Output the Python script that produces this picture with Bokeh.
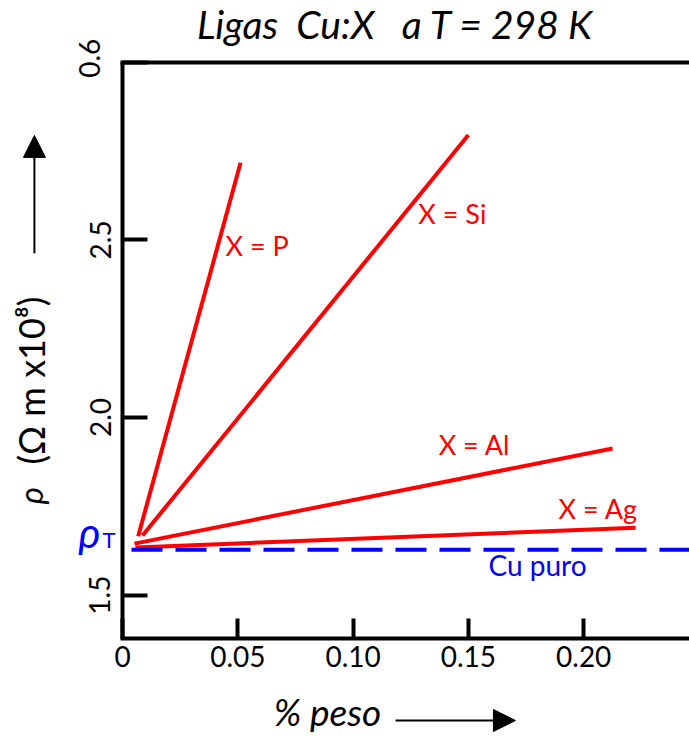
import math
from bokeh.plotting import figure
from bokeh.models import Range1d, FixedTicker, Label, Arrow, NormalHead, LinearAxis
from bokeh.embed import file_html
from bokeh.resources import INLINE

# ---- data ----
p_x = [0.0068, 0.0512]
p_y = [1.666, 2.717]
si_x = [0.0087, 0.150]
si_y = [1.668, 2.795]
al_x = [0.0052, 0.2125]
al_y = [1.645, 1.913]
ag_x = [0.0056, 0.2225]
ag_y = [1.634, 1.690]
cu_x = [0.0039, 0.2459]
cu_y = [1.628, 1.628]

x_ticks = [0, 0.05, 0.1, 0.15, 0.2]
x_tick_labels = ["0", "0.05", "0.10", "0.15", "0.20"]
y_ticks = [1.5, 2.0, 2.5, 3.0]
y_tick_labels = ["1.5", "2.0", "2.5", ""]
top_tick_label = "0.6"          # the top tick's label as printed in the source

X_MIN, X_MAX = 0.0, 0.2459      # plotted box
Y_MIN, Y_MAX = 1.379, 3.0

FONT = "Lato"
RED = "#ff0000"
BLUE = "#0000ff"

# the canvas shows the box plus room around it for the labels
p = figure(width=689, height=740, output_backend="svg", toolbar_location=None,
           x_range=Range1d(-0.05291, 0.24588), y_range=Range1d(1.0909, 3.1737),
           x_axis_location=None, y_axis_location=None,
           min_border_left=0, min_border_right=0, min_border_top=0,
           min_border_bottom=0)
p.title.visible = False
p.grid.visible = False
p.outline_line_color = None
p.background_fill_color = "white"
p.border_fill_color = "white"

def style_axis(ax, tick_in):
    ax.axis_line_width = 4
    ax.axis_line_color = "black"
    ax.major_tick_line_width = 4
    ax.major_tick_out = 0
    ax.major_tick_in = tick_in
    ax.minor_tick_line_color = None
    ax.major_label_text_font = FONT
    ax.major_label_text_font_size = "28px"
    ax.major_label_text_color = "black"

xaxis = LinearAxis(fixed_location=Y_MIN, bounds=(X_MIN - 0.0009, X_MAX),
                   ticker=FixedTicker(ticks=x_ticks),
                   major_label_overrides=dict(zip(x_ticks, x_tick_labels)))
style_axis(xaxis, 20)
xaxis.major_label_standoff = 8
p.add_layout(xaxis, "below")

yaxis = LinearAxis(fixed_location=X_MIN, bounds=(Y_MIN, Y_MAX),
                   ticker=FixedTicker(ticks=y_ticks),
                   major_label_overrides=dict(zip(y_ticks, y_tick_labels)))
style_axis(yaxis, 25)
yaxis.major_label_standoff = 12
yaxis.major_label_orientation = "vertical"
p.add_layout(yaxis, "left")

topaxis = LinearAxis(fixed_location=Y_MAX, bounds=(X_MIN - 0.0009, X_MAX),
                     ticker=FixedTicker(ticks=[]))
style_axis(topaxis, 0)
p.add_layout(topaxis, "above")

# series
for xs, ys in ((p_x, p_y), (si_x, si_y), (al_x, al_y), (ag_x, ag_y)):
    p.line(xs, ys, line_color=RED, line_width=4)
p.line(cu_x, cu_y, line_color=BLUE, line_width=4, line_dash="31 13")

def lab(x, y, text, size, color="black", style="normal", align="left",
        baseline="alphabetic", angle=0):
    p.add_layout(Label(x=x, y=y, text=text, text_font=FONT,
                       text_font_size=size, text_color=color,
                       text_font_style=style, text_align=align,
                       text_baseline=baseline, angle=angle))

# top tick label
lab(-0.0143, 3.0113, top_tick_label, "28px", align="center",
    baseline="middle", angle=math.pi / 2)

# series labels
lab(0.0447, 2.4853, "X = P", "27px", RED)
lab(0.1283, 2.5755, "X = Si", "27px", RED)
lab(0.1371, 1.9248, "X = Al", "27px", RED)
lab(0.1891, 1.7445, "X = Ag", "27px", RED)
lab(0.1587, 1.5854, "Cu puro", "28px", BLUE)

# rho_T
lab(-0.0143, 1.6775, "ρ", "42px", BLUE, style="italic", align="center")
lab(-0.0087, 1.657, "T", "22px", BLUE)

# title
lab(0.1184, 3.108, "Ligas\u00a0\u00a0Cu:X\u00a0\u00a0\u00a0a T = 298 K", "39px", "black",
    style="italic", align="center")

# x axis label + arrow
lab(0.0889, 1.1712, "% peso", "37px", "black", style="italic", align="center")
p.add_layout(Arrow(x_start=0.1184, y_start=1.1472, x_end=0.1704, y_end=1.1472,
                   line_width=2, line_color="black",
                   end=NormalHead(size=22, fill_color="black", line_color="black")))

# y axis label + arrow
lab(-0.0400, 1.780, "ρ", "33px", "black", style="italic", align="center",
    baseline="middle", angle=math.pi / 2)
lab(-0.0398, 2.104, "(Ω m x10⁸)", "36px", "black", align="center",
    baseline="middle", angle=math.pi / 2)
p.add_layout(Arrow(x_start=-0.0382, y_start=2.462, x_end=-0.0382, y_end=2.794,
                   line_width=2, line_color="black",
                   end=NormalHead(size=22, fill_color="black", line_color="black")))

open("out.html", "w").write(file_html(p, INLINE))
